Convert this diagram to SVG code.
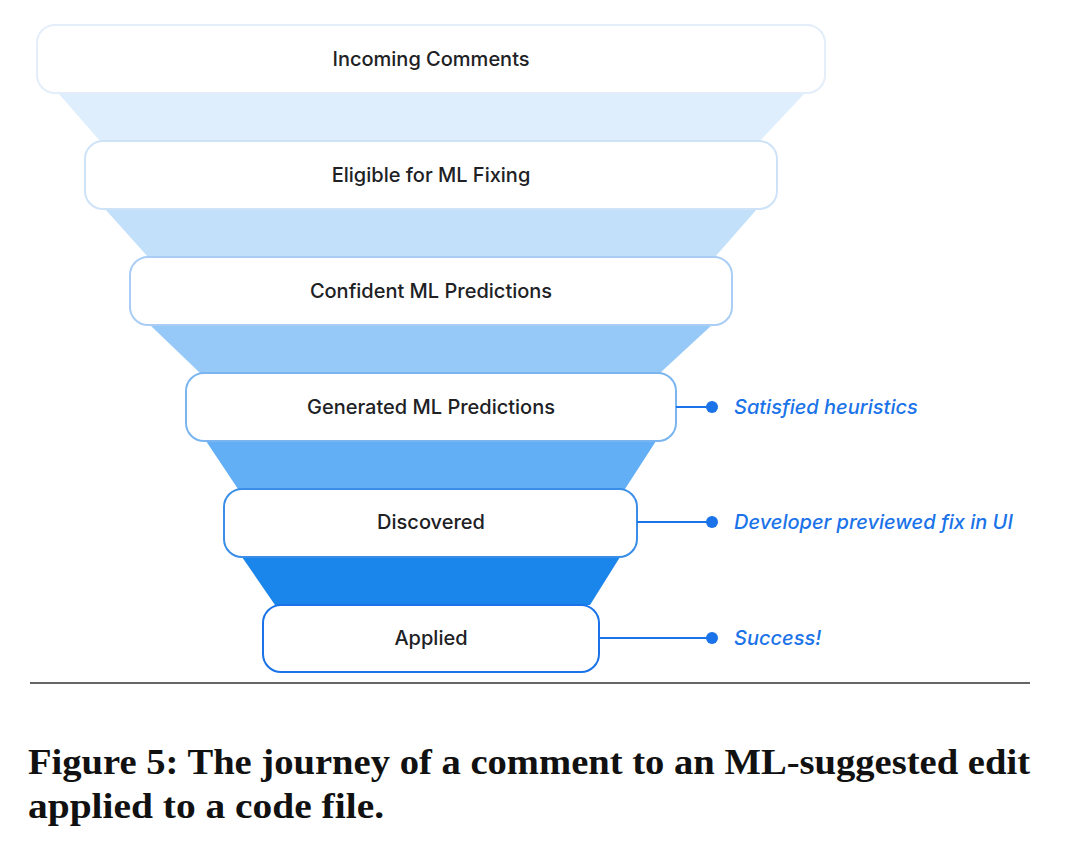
<svg xmlns="http://www.w3.org/2000/svg" width="1080" height="858" viewBox="0 0 1080 858">
<style>
.b{fill:#fff;stroke-width:2}
.t{font-family:Inter,"Liberation Sans",sans-serif;font-size:20px;font-weight:500;fill:#202124;text-anchor:middle}
.n{font-family:Inter,"Liberation Sans",sans-serif;font-size:20px;font-weight:500;fill:#1a73e8;font-style:italic}
.c{stroke:#1a73e8;stroke-width:2;fill:none}
.cap{font-family:"Liberation Serif",serif;font-weight:bold;font-size:35px;fill:#111}
</style>
<rect width="1080" height="858" fill="#fff"/>
<g id="funnel">
<polygon points="58,93 805,93 760,141 100,141" fill="#dfeefc"/>
<polygon points="105,209 757,209 715,257 148,257" fill="#c3e0fb"/>
<polygon points="150,325 712,325 660,373 200,373" fill="#97c9f8"/>
<polygon points="206,441 656,441 625,489 238,489" fill="#62aff6"/>
<polygon points="242,557 620,557 590,605 275,605" fill="#1a85ea"/>
</g>
<g id="n1"><rect class="b" x="37" y="25" width="788" height="68" rx="18" stroke="#e3eefa"/><text class="t" x="431" y="66">Incoming Comments</text></g>
<g id="n2"><rect class="b" x="85" y="141" width="692" height="68" rx="18" stroke="#cfe3f8"/><text class="t" x="431" y="182">Eligible for ML Fixing</text></g>
<g id="n3"><rect class="b" x="130" y="257" width="602" height="68" rx="18" stroke="#a9cdf5"/><text class="t" x="431" y="298">Confident ML Predictions</text></g>
<g id="n4"><rect class="b" x="186" y="373" width="490" height="68" rx="18" stroke="#7ab5f0"/><text class="t" x="431" y="414">Generated ML Predictions</text></g>
<g id="n5"><rect class="b" x="224" y="489" width="413" height="68" rx="18" stroke="#3a8ee8"/><text class="t" x="431" y="529">Discovered</text></g>
<g id="n6"><rect class="b" x="263" y="605" width="336" height="67" rx="18" stroke="#1a73e8"/><text class="t" x="431" y="645">Applied</text></g>
<g id="connectors">
<path class="c" d="M676,407H712M637,522H712M599,638H712"/>
<circle cx="712" cy="407" r="6" fill="#1a73e8"/>
<circle cx="712" cy="522" r="6" fill="#1a73e8"/>
<circle cx="712" cy="638" r="6" fill="#1a73e8"/>
</g>
<text class="n" x="734" y="414">Satisfied heuristics</text>
<text class="n" x="734" y="529">Developer previewed fix in UI</text>
<text class="n" x="734" y="645">Success!</text>
<line x1="30" y1="683" x2="1030" y2="683" stroke="#333" stroke-width="1.5"/>
<text class="cap" x="28" y="774" textLength="1002" lengthAdjust="spacingAndGlyphs">Figure 5: The journey of a comment to an ML-suggested edit</text>
<text class="cap" x="28" y="818" textLength="356" lengthAdjust="spacingAndGlyphs">applied to a code file.</text>
</svg>
